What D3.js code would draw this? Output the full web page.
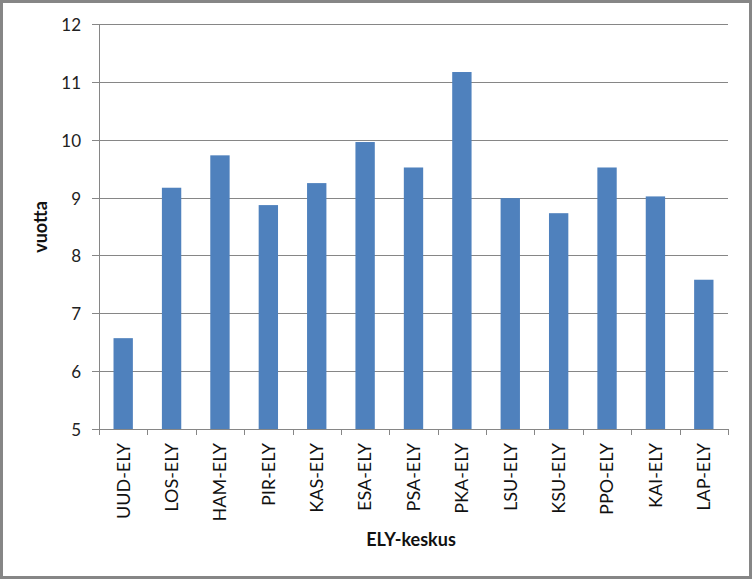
<!DOCTYPE html>
<html><head><meta charset="utf-8">
<script src="https://cdn.jsdelivr.net/npm/d3@7"></script>
<style>body{margin:0;background:#fff}svg{display:block}</style>
</head><body>
<script>
const categories = ["UUD-ELY","LOS-ELY","HAM-ELY","PIR-ELY","KAS-ELY","ESA-ELY","PSA-ELY","PKA-ELY","LSU-ELY","KSU-ELY","PPO-ELY","KAI-ELY","LAP-ELY"];
const values = [6.57,9.17,9.73,8.87,9.25,9.96,9.52,11.17,8.99,8.73,9.52,9.02,7.58];
const yTicks = [5,6,7,8,9,10,11,12];
const xTitle = "ELY-keskus";
const yTitle = "vuotta";

const W=752,H=579;
const svg=d3.select("body").append("svg").attr("width",W).attr("height",H);
svg.append("rect").attr("x",1.5).attr("y",1.5).attr("width",W-3).attr("height",H-3)
  .attr("fill","#fff").attr("stroke","#868686").attr("stroke-width",3);

const L=99,R=728,T=24,B=429;
const x=d3.scaleBand().domain(categories).range([L,R]).paddingInner(0.6).paddingOuter(0.3);
const xb=d3.scaleBand().domain(categories).range([L,R]);
const y=d3.scaleLinear().domain([5,12]).range([B,T]);
const font="Lato, 'Open Sans', sans-serif";

// gridlines
svg.append("g").selectAll("line").data(yTicks).join("line")
  .attr("x1",L-7).attr("x2",R).attr("y1",d=>Math.round(y(d))+0.5).attr("y2",d=>Math.round(y(d))+0.5)
  .attr("stroke","#868686").attr("stroke-width",1);

// bars
svg.append("g").selectAll("rect").data(values).join("rect")
  .attr("x",(d,i)=>x(categories[i])).attr("width",x.bandwidth())
  .attr("y",d=>y(d)).attr("height",d=>B-y(d)).attr("fill","#4f81bd");

// y axis line
svg.append("line").attr("x1",L+0.5).attr("x2",L+0.5).attr("y1",T).attr("y2",B).attr("stroke","#868686");
// x axis
svg.append("line").attr("x1",L).attr("x2",R).attr("y1",B+0.5).attr("y2",B+0.5).attr("stroke","#868686");
const bounds=categories.map(c=>xb(c)).concat([R]);
svg.append("g").selectAll("line").data(bounds).join("line")
  .attr("x1",d=>Math.round(d)+0.5).attr("x2",d=>Math.round(d)+0.5).attr("y1",B).attr("y2",B+6).attr("stroke","#868686");

// y tick labels
svg.append("g").selectAll("text").data(yTicks).join("text")
  .attr("x",81).attr("y",d=>y(d)+1).attr("dy","0.35em").attr("text-anchor","end")
  .attr("font-family",font).attr("font-size",17).attr("fill","#222").text(d=>d);

// x labels
svg.append("g").selectAll("text").data(categories).join("text")
  .attr("transform",d=>`translate(${xb(d)+xb.bandwidth()/2},443) rotate(-90)`)
  .attr("dy","0.35em").attr("text-anchor","end")
  .attr("font-family",font).attr("font-size",18).attr("fill","#111").text(d=>d);

svg.append("text").attr("x",411).attr("y",546).attr("text-anchor","middle")
  .attr("font-family",font).attr("font-size",18).attr("font-weight","bold").attr("fill","#111").text(xTitle);
svg.append("text").attr("transform","translate(47,227) rotate(-90)").attr("text-anchor","middle")
  .attr("font-family",font).attr("font-size",18).attr("font-weight","bold").attr("fill","#111").text(yTitle);
</script>
</body></html>
